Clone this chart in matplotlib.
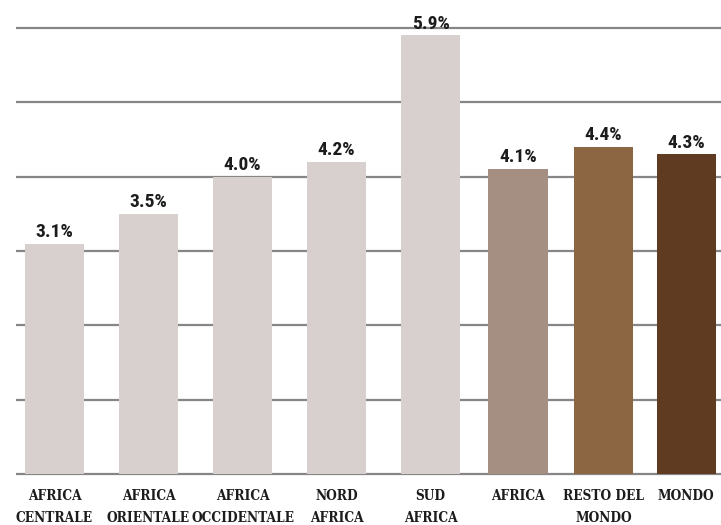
"""Crescita media annua per area: barre a tinta unica, etichette dirette."""

import matplotlib.pyplot as plt

categorie = ["AFRICA\nCENTRALE", "AFRICA\nORIENTALE", "AFRICA\nOCCIDENTALE",
             "NORD\nAFRICA", "SUD\nAFRICA", "AFRICA", "RESTO DEL\nMONDO", "MONDO"]
valori = [3.1, 3.5, 4.0, 4.2, 5.9, 4.1, 4.4, 4.3]
griglia = [0, 1, 2, 3, 4, 5, 6]

# slot positions: the three aggregate bars sit a little closer together
posizioni = [0, 1, 2, 3, 4, 4.93, 5.84, 6.72]
colori = ["#d8d0cf"] * 5 + ["#a48f82", "#8c6642", "#5f3b22"]

INK = "#1c1c1c"
GRID = "#868686"

fig = plt.figure(figsize=(7.21, 5.25), dpi=100)
fig.patch.set_facecolor("white")
ax = fig.add_axes([16 / 721, 51 / 525, 705 / 721, 446 / 525])
ax.set_xlim(-0.41, 7.09)
ax.set_ylim(0, 6)
ax.axis("off")

ax.hlines(griglia, -0.41, 7.09, color=GRID, linewidth=1.6, zorder=1, clip_on=False)
ax.bar(posizioni, valori, width=0.63, color=colori, zorder=2)

for x, v in zip(posizioni, valori):
    ax.annotate(f"{v:.1f}%", (x, v), xytext=(0, 2), textcoords="offset points",
                ha="center", va="bottom", fontsize=14, fontweight="bold",
                family="Roboto Condensed", fontstretch="condensed", color=INK,
                zorder=3, annotation_clip=False)

for x, lab in zip(posizioni, categorie):
    ax.annotate(lab, (x, 0), xytext=(0, -10.5), textcoords="offset points",
                ha="center", va="top", fontsize=9.8, fontweight="bold",
                family="DejaVu Serif", fontstretch="condensed", color=INK,
                linespacing=1.75, annotation_clip=False)

fig.savefig("out.png", dpi=100, facecolor="white")
